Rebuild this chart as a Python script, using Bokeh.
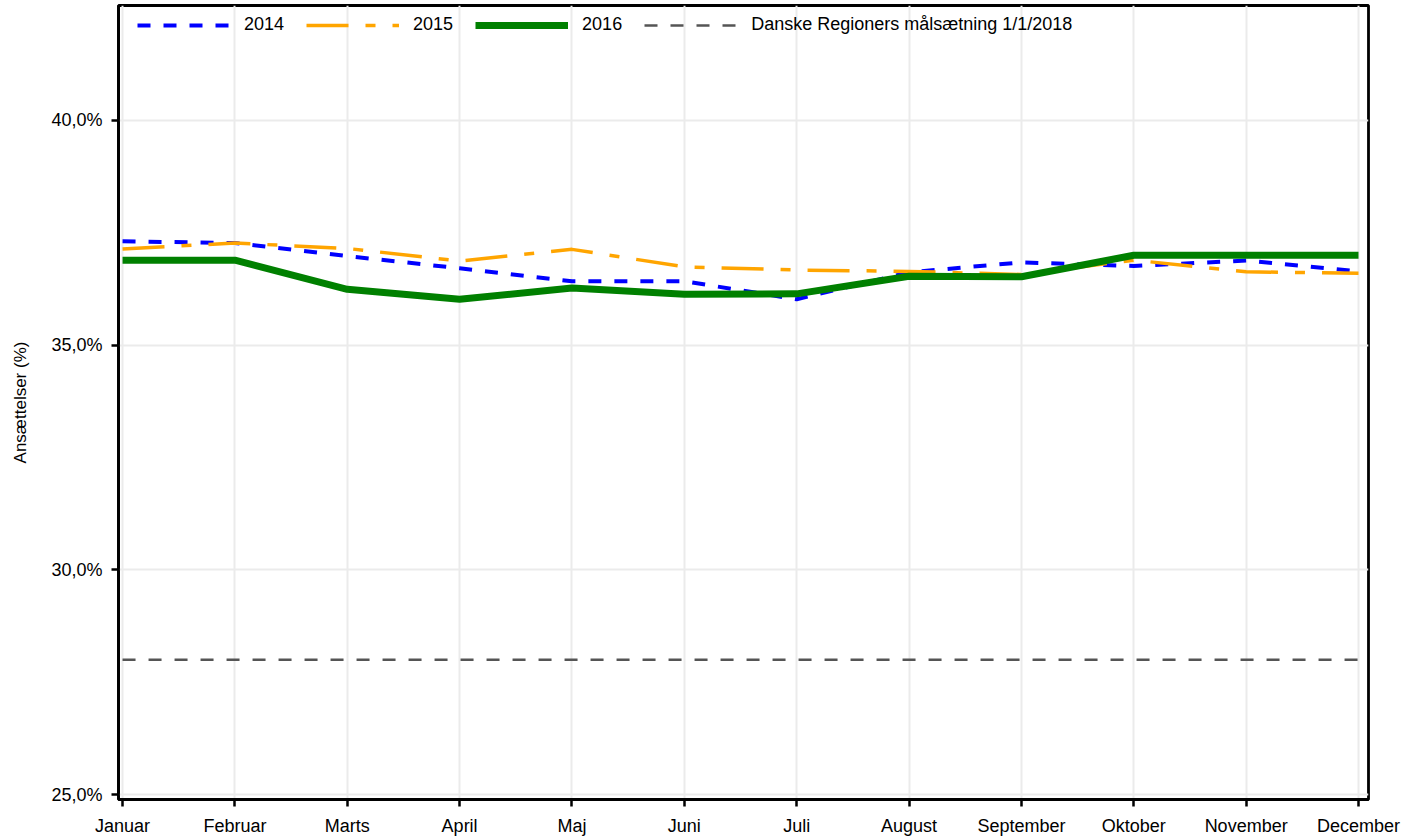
from bokeh.plotting import figure
from bokeh.models import FixedTicker, Legend, LegendItem, Range1d
from bokeh.embed import file_html
from bokeh.resources import INLINE

months = ["Januar", "Februar", "Marts", "April", "Maj", "Juni", "Juli",
          "August", "September", "Oktober", "November", "December"]
v2014 = [37.31, 37.27, 36.98, 36.71, 36.42, 36.42, 36.02, 36.62, 36.84, 36.76, 36.88, 36.64]
v2015 = [37.14, 37.27, 37.15, 36.87, 37.13, 36.74, 36.67, 36.64, 36.57, 36.89, 36.63, 36.60]
v2016 = [36.89, 36.89, 36.24, 36.02, 36.27, 36.13, 36.14, 36.53, 36.52, 37.00, 37.00, 37.00]
target_value = 28.0
target = [target_value] * len(months)
y_ticks = [25, 30, 35, 40]
series_names = ["2014", "2015", "2016", "Danske Regioners målsætning 1/1/2018"]

FONT = "Liberation Sans"
x = list(range(len(months)))

p = figure(width=1403, height=838, output_backend="svg", toolbar_location=None,
           x_range=Range1d(-0.036, 11.089), y_range=Range1d(24.889, 42.556),
           min_border_left=118, min_border_right=35, min_border_top=5, min_border_bottom=0)

p.background_fill_color = "white"
p.border_fill_color = "white"
p.outline_line_color = "black"
p.outline_line_width = 2.8

r1 = p.line(x, v2014, line_color="#0000ff", line_width=4, line_dash="13 13")
r2 = p.line(x, v2015, line_color="#ffa500", line_width=3.5, line_dash="42 17 10 17")
r3 = p.line(x, v2016, line_color="#008000", line_width=7)
r4 = p.line(x, target, line_color="#555555", line_width=2.5, line_dash="13 13")

p.xaxis.ticker = FixedTicker(ticks=x)
p.xaxis.major_label_overrides = {i: m for i, m in enumerate(months)}
p.yaxis.ticker = FixedTicker(ticks=y_ticks)
p.yaxis.major_label_overrides = {t: f"{t:.1f}%".replace(".", ",") for t in y_ticks}

for ax in (p.xaxis[0], p.yaxis[0]):
    ax.axis_line_color = "black"
    ax.axis_line_width = 2.8
    ax.major_tick_line_color = "black"
    ax.major_tick_line_width = 2.5
    ax.major_tick_out = 7
    ax.major_tick_in = 0
    ax.minor_tick_line_color = None
    ax.major_label_text_font = FONT
    ax.major_label_text_font_size = "18px"
    ax.major_label_text_color = "black"

p.xaxis.major_label_standoff = 9
p.yaxis.major_label_standoff = 9
p.yaxis.axis_label = "Ansættelser (%)"
p.yaxis.axis_label_text_font = FONT
p.yaxis.axis_label_text_font_size = "17px"
p.yaxis.axis_label_text_font_style = "normal"
p.yaxis.axis_label_text_color = "black"
p.yaxis.axis_label_standoff = 18

p.xgrid.grid_line_color = "#ebebeb"
p.xgrid.grid_line_width = 2
p.ygrid.grid_line_color = "#ebebeb"
p.ygrid.grid_line_width = 2

legend = Legend(items=[LegendItem(label=n, renderers=[r]) for n, r in zip(series_names, [r1, r2, r3, r4])],
                orientation="horizontal", location=(19, 764), margin=0, padding=0,
                glyph_width=93, glyph_height=20, label_standoff=14, spacing=22,
                label_text_font=FONT, label_text_font_size="18px", label_text_color="black",
                background_fill_alpha=0, border_line_alpha=0)
p.add_layout(legend, "center")

open("out.html", "w").write(file_html(p, INLINE))
